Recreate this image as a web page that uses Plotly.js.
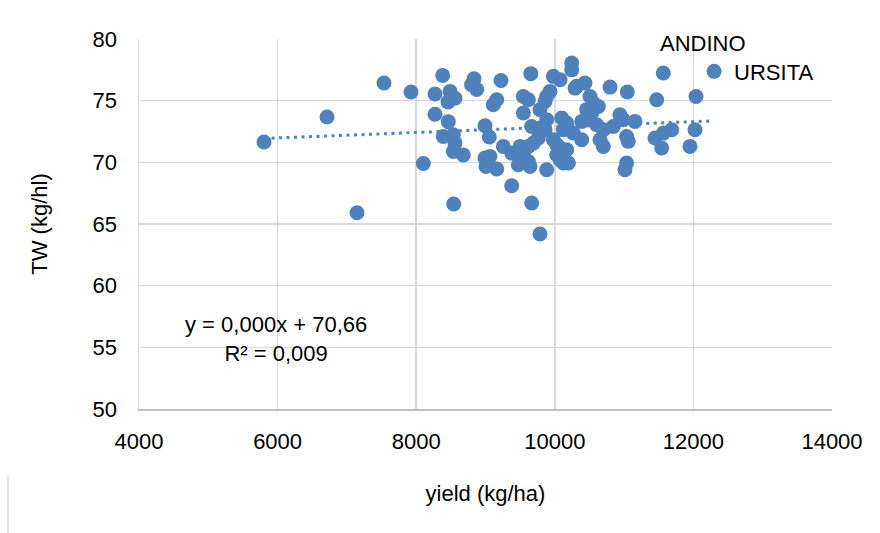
<!DOCTYPE html>
<html>
<head>
<meta charset="utf-8">
<script src="https://cdn.plot.ly/plotly-3.0.1.min.js"></script>
<style>html,body{margin:0;padding:0;background:#fff;}#chart{width:880px;height:533px;}</style>
</head>
<body>
<div id="chart"></div>
<script>
// URSITA: yield (kg/ha) vs TW (kg/hl)
var yieldVals = [5804,6713,7535,7925,8103,7146,8541,9378,9666,9786,
  8382,8271,8488,8560,8459,8271,8463,8391,8536,8560,
  8536,8680,8834,8873,8800,9224,9162,9113,8993,9055,
  8993,9007,9162,9065,9257,9378,9498,9546,9618,9474,
  9643,9618,9690,9654,9546,9618,9786,9546,9666,9786,
  9859,9883,9762,9883,9931,9859,9979,10076,10292,10244,
  10244,10316,10436,10508,10556,10628,10460,10532,10797,11046,
  10100,10172,10124,10268,10388,10460,10604,10700,10844,10940,
  10988,11157,10388,10652,10700,11036,11060,9979,10027,10076,
  10172,10027,10124,10196,9883,10076,11036,11012,11470,11566,
  11446,11566,11687,11542,11951,12023,12038];
var twVals = [71.65,73.67,76.43,75.70,69.90,65.91,66.62,68.10,66.70,64.19,
  77.05,75.54,75.75,75.20,74.90,73.90,73.30,72.10,72.24,71.57,
  70.88,70.60,76.78,75.90,76.30,76.64,75.08,74.67,72.97,72.05,
  70.35,69.67,69.46,70.48,71.29,70.75,71.29,70.62,70.07,69.80,
  69.67,71.29,71.56,77.19,75.34,75.08,74.27,74.00,72.91,72.78,
  72.64,73.45,71.97,75.34,75.75,74.94,76.97,76.70,76.02,78.05,
  77.50,76.16,76.43,75.34,74.80,74.53,74.27,74.00,76.10,75.70,
  73.60,73.19,72.64,72.37,73.32,73.45,73.05,72.64,72.91,73.86,
  73.45,73.32,71.83,71.83,71.29,72.10,71.70,71.83,71.43,71.16,
  71.02,70.62,69.94,69.94,69.40,70.21,69.94,69.40,75.08,77.24,
  71.97,72.37,72.64,71.16,71.29,72.64,75.34];

// Linear trendline (as shown: y = 0,000x + 70,66)
var trendIntercept = 70.66;
var trendSlope = 0.00022;
var trendRange = [5804, 12250];

var seriesNames = ["ANDINO", "URSITA"];
var equationText = "y = 0,000x + 70,66<br>R² = 0,009";
var xTitle = "yield (kg/ha)";
var yTitle = "TW (kg/hl)";
var xTicks = [4000, 6000, 8000, 10000, 12000, 14000];
var yTicks = [50, 55, 60, 65, 70, 75, 80];

var blue = "#4f81bd";
var trendY = trendRange.map(function (x) { return trendIntercept + trendSlope * x; });

var traces = [
  {
    x: trendRange, y: trendY, type: "scatter", mode: "lines",
    line: {color: blue, width: 3, dash: "3px,4.5px"},
    showlegend: false, hoverinfo: "skip"
  },
  {
    x: yieldVals, y: twVals, type: "scatter", mode: "markers",
    name: seriesNames[1],
    marker: {color: blue, size: 15, line: {width: 0}}
  }
];

var font = {family: "Liberation Sans, Arial, sans-serif", size: 22, color: "#000"};

var layout = {
  width: 880, height: 533,
  margin: {l: 139, r: 48, t: 39, b: 124, pad: 0},
  paper_bgcolor: "#fff", plot_bgcolor: "#fff",
  font: font,
  showlegend: true,
  legend: {
    x: 0.801, y: 0.912, xanchor: "left", yanchor: "middle",
    font: font, bgcolor: "rgba(0,0,0,0)", borderwidth: 0,
    itemwidth: 30
  },
  xaxis: {
    range: [4000, 14000], tickvals: xTicks, tickformat: "d",
    showgrid: true, gridcolor: "#d9d9d9", gridwidth: 1.5,
    zeroline: false, showline: true, linecolor: "#bfbfbf", linewidth: 1.5,
    ticks: "", ticklabelstandoff: 12,
    tickfont: font,
    title: {text: xTitle, font: font, standoff: 32}
  },
  yaxis: {
    range: [50, 80], tickvals: yTicks,
    showgrid: true, gridcolor: "#d9d9d9", gridwidth: 1.5,
    zeroline: false, showline: true, linecolor: "#d9d9d9", linewidth: 1.5,
    ticks: "", ticklabelstandoff: 16,
    tickfont: font,
    title: {text: yTitle, font: font, standoff: 39}
  },
  shapes: [
    {
      type: "line", xref: "paper", yref: "paper",
      x0: -0.189, x1: -0.189, y0: -0.183, y1: -0.34,
      line: {color: "#d9d9d9", width: 1.5}
    }
  ],
  annotations: [
    {
      text: seriesNames[0], xref: "paper", yref: "paper",
      x: 0.749, y: 0.987, xanchor: "left", yanchor: "middle",
      showarrow: false, font: font
    },
    {
      text: equationText, xref: "paper", yref: "paper",
      x: 0.198, y: 0.189, xanchor: "center", yanchor: "middle", align: "center",
      showarrow: false, font: font
    }
  ]
};

Plotly.newPlot("chart", traces, layout, {displayModeBar: false, staticPlot: true});
</script>
</body>
</html>
